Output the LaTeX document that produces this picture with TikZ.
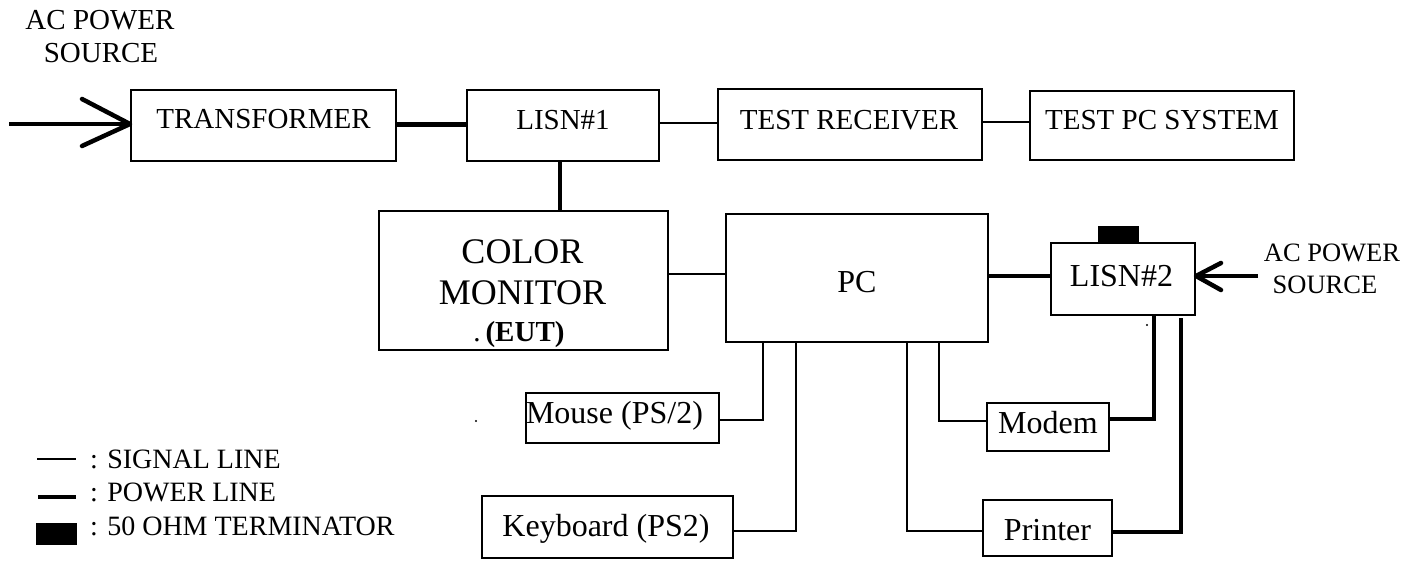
\documentclass[tikz,border=0pt]{standalone}
\usepackage{fontspec}
\setmainfont{Liberation Serif}
\usetikzlibrary{calc}
\tikzset{
  box/.style={draw=black, line width=2pt, inner sep=0pt, rectangle},
  term/.style={draw=black, fill=black, line width=1pt, inner sep=0pt, rectangle},
  sig/.style={draw=black, line width=1.6pt},
  pow/.style={draw=black, line width=4.5pt},
  chev/.style={draw=black, line width=4.5pt, line cap=round, line join=round},
  txt/.style={inner sep=0pt, anchor=base, font=\fontsize{29}{33}\selectfont},
  txtb/.style={inner sep=0pt, anchor=base, font=\fontsize{32}{36}\selectfont},
  txtc/.style={inner sep=0pt, anchor=base, font=\fontsize{36}{40}\selectfont},
  txts/.style={inner sep=0pt, anchor=base, font=\fontsize{26.5}{30}\selectfont},
  leg/.style={inner sep=0pt, anchor=base west, font=\fontsize{28}{32}\selectfont},
}
\begin{document}
\begin{tikzpicture}[x=1pt,y=-1pt]
\useasboundingbox (0,0) rectangle (1417,561);
% boxes
\node[box, minimum width=265pt, minimum height=71pt] (tr) at (263.5,125.5) {};
\node[box, minimum width=192pt, minimum height=71pt] (lisn1) at (563,125.5) {};
\node[box, minimum width=264pt, minimum height=71pt] (rec) at (850,124.5) {};
\node[box, minimum width=264pt, minimum height=69pt] (tpc) at (1162,125.5) {};
\node[box, minimum width=289pt, minimum height=139pt] (mon) at (523.5,280.5) {};
\node[box, minimum width=262pt, minimum height=128pt] (pc) at (857,278) {};
\node[box, minimum width=144pt, minimum height=72pt] (lisn2) at (1123,279) {};
\node[term, minimum width=40pt, minimum height=16pt] (trm) at (1118,235) {};
\node[box, minimum width=193pt, minimum height=50pt] (mouse) at (622.5,418) {};
\node[box, minimum width=251pt, minimum height=62pt] (kb) at (607.5,527) {};
\node[box, minimum width=122pt, minimum height=48pt] (modem) at (1048,427) {};
\node[box, minimum width=129pt, minimum height=56pt] (printer) at (1047.5,528) {};
% box texts
\node[txt] (trt) at (263.5,129) {TRANSFORMER};
\node[txt] (l1t) at (563,130) {LISN\#1};
\node[txt] (rect) at (849,130) {TEST RECEIVER};
\node[txt] (tpct) at (1162,130) {TEST PC SYSTEM};
\node[txtc] (mont1) at (522.5,264) {COLOR};
\node[txtc] (mont2) at (522.5,305) {MONITOR};
\node[txt] (mont3) at (519,342) {.\,\textbf{(EUT)}};
\node[txtb] (pct) at (857,293) {PC};
\node[txtb] (l2t) at (1121.5,287) {LISN\#2};
\node[txtb] (mt) at (614.5,423) {Mouse (PS/2)};
\node[txtb] (kbt) at (606,536) {Keyboard (PS2)};
\node[txtb] (mdt) at (1048,433) {Modem};
\node[txtb] (prt) at (1047.5,540) {Printer};
% AC power sources
\node[txt] (ac1a) at (100,30) {AC POWER};
\node[txt] (ac1b) at (101,63) {SOURCE};
\node[txts] (ac2a) at (1332,262) {AC POWER};
\node[txts] (ac2b) at (1325,294) {SOURCE};
% coordinates
\coordinate (acin) at (9,124);
\coordinate (acin2) at (1258,276);
\coordinate (ptop) at (1181,318);
% input arrows
\draw[pow] (acin) -- (tr.west |- 0,124);
\draw[chev] ($(tr.west |- 0,124)+(-48,-25)$) -- (tr.west |- 0,124) -- ($(tr.west |- 0,124)+(-48,22)$);
\draw[pow] (acin2) -- (lisn2.east |- 0,276);
\draw[chev] ($(lisn2.east |- 0,276)+(25,-13)$) -- (lisn2.east |- 0,276) -- ($(lisn2.east |- 0,276)+(25,14)$);
% power lines
\draw[pow] (tr.east |- 0,124.5) -- (lisn1.west |- 0,124.5);
\draw[pow] (lisn1.south -| 560,0) -- (mon.north -| 560,0);
\draw[pow] (pc.east |- 0,276) -- (lisn2.west |- 0,276);
\draw[pow, line width=3.5pt] (modem.east |- 0,419) -| (lisn2.south -| 1154,0);
\draw[pow, line width=3.5pt] (printer.east |- 0,532) -| (ptop);
% signal lines
\draw[sig] (lisn1.east |- 0,123) -- (rec.west |- 0,123);
\draw[sig] (rec.east |- 0,122) -- (tpc.west |- 0,122);
\draw[sig] (mon.east |- 0,274) -- (pc.west |- 0,274);
\draw[sig] (mouse.east |- 0,420) -| (pc.south -| 763,0);
\draw[sig] (kb.east |- 0,531) -| (pc.south -| 796,0);
\draw[sig] (pc.south -| 939,0) |- (modem.west |- 0,421);
\draw[sig] (pc.south -| 907,0) |- (printer.west |- 0,531);
% stray dots
\fill (476,421) circle (1.2pt);
\fill (1147,325) circle (1.2pt);
% legend
\coordinate (lsa) at (37,459);
\coordinate (lsb) at (76,459);
\coordinate (lpa) at (38,497);
\coordinate (lpb) at (76,497);
\draw[sig] (lsa) -- (lsb);
\draw[pow, line width=3.5pt] (lpa) -- (lpb);
\node[term, minimum width=40pt, minimum height=21pt] (legterm) at (56,533.5) {};
\node[leg] (lg1) at (90,468) {: SIGNAL LINE};
\node[leg] (lg2) at (90,501) {: POWER LINE};
\node[leg] (lg3) at (90,535) {: 50 OHM TERMINATOR};
\end{tikzpicture}
\end{document}
